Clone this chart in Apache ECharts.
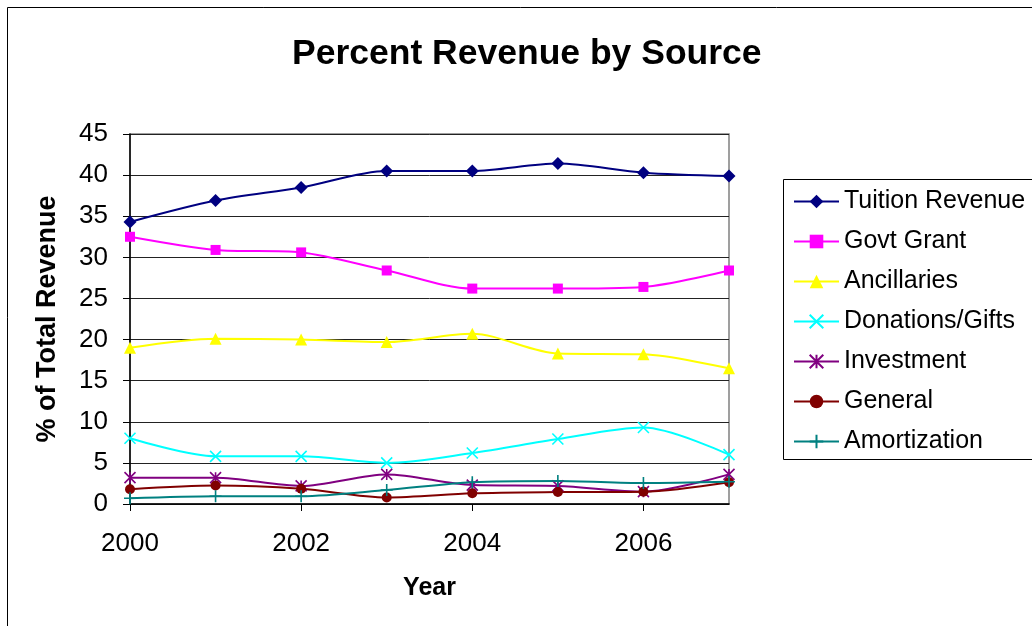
<!DOCTYPE html>
<html>
<head>
<meta charset="utf-8">
<title>Percent Revenue by Source</title>
<script src="https://cdn.jsdelivr.net/npm/echarts@6/dist/echarts.min.js"></script>
<style>
  html, body { margin: 0; padding: 0; background: #fff; }
  #chart { width: 1032px; height: 626px; }
</style>
</head>
<body>
<div id="chart"></div>
<script>
// Share of total revenue (%) by source, 2000-2007
const years = ['2000', '2001', '2002', '2003', '2004', '2005', '2006', '2007'];
const tuitionRevenue = [34.3, 36.9, 38.5, 40.5, 40.5, 41.4, 40.3, 39.9];
const govtGrant      = [32.5, 30.9, 30.6, 28.4, 26.2, 26.2, 26.4, 28.4];
const ancillaries    = [19.0, 20.1, 20.0, 19.7, 20.7, 18.3, 18.2, 16.5];
const donationsGifts = [8.0, 5.8, 5.8, 5.0, 6.2, 7.9, 9.3, 6.0];
const investment     = [3.2, 3.2, 2.2, 3.6, 2.3, 2.2, 1.5, 3.6];
const general        = [1.8, 2.25, 1.85, 0.8, 1.3, 1.45, 1.5, 2.65];
const amortization   = [0.7, 0.95, 0.95, 1.7, 2.65, 2.8, 2.55, 2.7];
const yTicks = { min: 0, max: 45, interval: 5 };

const FONT = '"Liberation Sans", Arial, Helvetica, sans-serif';

// stroked marker shapes (drawn as open paths)
const SYM_X    = 'path://M0,0L10,10M10,0L0,10';
const SYM_STAR = 'path://M0,0L10,10M10,0L0,10M5,0L5,10';
const SYM_PLUS = 'path://M5,0L5,10M0,5L10,5';

function lineSeries(name, data, color, symbol, size, stroked) {
  return {
    name: name,
    type: 'line',
    data: data,
    smooth: 0.3,
    symbol: symbol,
    symbolSize: size,
    showAllSymbol: true,
    lineStyle: { color: color, width: 2 },
    itemStyle: stroked
      ? { color: color, borderColor: color, borderWidth: 1.6 }
      : { color: color, borderWidth: 0 },
    emphasis: { disabled: true },
    z: 3
  };
}

const chart = echarts.init(document.getElementById('chart'), null, { renderer: 'canvas' });

chart.setOption({
  animation: false,
  backgroundColor: '#ffffff',
  textStyle: { fontFamily: FONT },
  title: {
    text: 'Percent Revenue by Source',
    left: 292,
    top: 36,
    padding: 0,
    textStyle: { fontFamily: FONT, fontSize: 35.5, fontWeight: 'bold', color: '#000' }
  },
  graphic: [
    {
      // outer chart frame (runs past the right and bottom edges)
      type: 'rect',
      shape: { x: 7.5, y: 7.5, width: 1100, height: 700 },
      style: { fill: 'none', stroke: '#000', lineWidth: 1 },
      silent: true,
      z: -10
    },
    {
      // legend frame, open past the right edge
      type: 'rect',
      shape: { x: 783.5, y: 179.5, width: 400, height: 280 },
      style: { fill: 'none', stroke: '#000', lineWidth: 1 },
      silent: true,
      z: -5
    }
  ],
  legend: {
    orient: 'vertical',
    left: 783,
    top: 179,
    padding: [10, 10, 5, 10],
    itemGap: 15,
    itemWidth: 45,
    itemHeight: 17,
    borderWidth: 0,
    textStyle: { fontFamily: FONT, fontSize: 25, color: '#000' },
    data: ['Tuition Revenue', 'Govt Grant', 'Ancillaries', 'Donations/Gifts', 'Investment', 'General', 'Amortization']
  },
  grid: {
    left: 130,
    right: 303,
    top: 134,
    bottom: 122,
    show: true,
    borderColor: '#808080',
    borderWidth: 1.5,
    backgroundColor: 'transparent'
  },
  xAxis: {
    type: 'category',
    data: years,
    boundaryGap: false,
    name: 'Year',
    nameLocation: 'middle',
    nameGap: 72,
    nameTextStyle: { fontFamily: FONT, fontSize: 25, fontWeight: 'bold', color: '#000' },
    axisLine: { show: true, onZero: false, lineStyle: { color: '#000', width: 1.5 } },
    axisTick: { show: true, interval: 1, length: 7, lineStyle: { color: '#000', width: 1 } },
    axisLabel: { interval: 1, margin: 27, fontFamily: FONT, fontSize: 26, color: '#000' },
    splitLine: { show: false }
  },
  yAxis: {
    type: 'value',
    min: yTicks.min,
    max: yTicks.max,
    interval: yTicks.interval,
    name: '% of Total Revenue',
    nameLocation: 'middle',
    nameGap: 69,
    nameTextStyle: { fontFamily: FONT, fontSize: 27, fontWeight: 'bold', color: '#000' },
    axisLine: { show: true, lineStyle: { color: '#000', width: 1.5 } },
    axisTick: { show: true, length: 7, lineStyle: { color: '#000', width: 1 } },
    axisLabel: { margin: 22, fontFamily: FONT, fontSize: 26, color: '#000' },
    splitLine: { show: true, lineStyle: { color: '#222', width: 1 } }
  },
  series: [
    lineSeries('Tuition Revenue', tuitionRevenue, '#000080', 'diamond', 13, false),
    lineSeries('Govt Grant', govtGrant, '#FF00FF', 'rect', 10, false),
    lineSeries('Ancillaries', ancillaries, '#FFFF00', 'triangle', 12, false),
    lineSeries('Donations/Gifts', donationsGifts, '#00FFFF', SYM_X, 11, true),
    lineSeries('Investment', investment, '#800080', SYM_STAR, 11, true),
    lineSeries('General', general, '#800000', 'circle', 10, false),
    lineSeries('Amortization', amortization, '#008080', SYM_PLUS, 12, true)
  ]
});
</script>
</body>
</html>
